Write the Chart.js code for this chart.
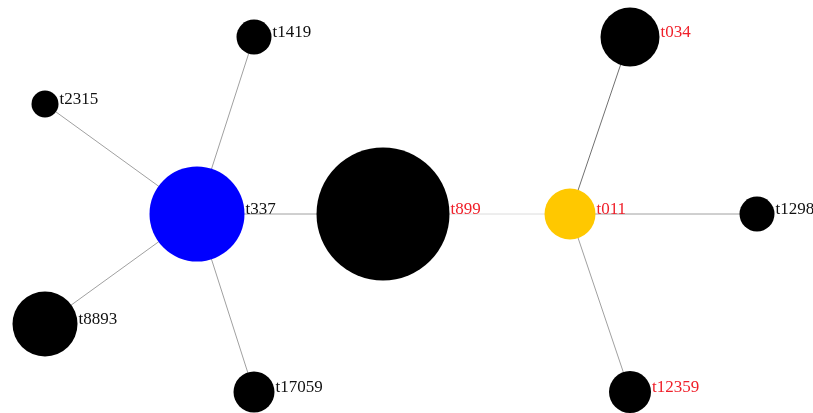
<!DOCTYPE html>
<html>
<head>
<meta charset="utf-8">
<script src="https://cdn.jsdelivr.net/npm/chart.js@4"></script>
<style>
  html, body { margin: 0; padding: 0; background: #fff; }
  #wrap { width: 813px; height: 413px; }
</style>
</head>
<body>
<div id="wrap"><canvas id="net"></canvas></div>
<script>
// spa types, layout position and node size
const nodeNames = ['t1419', 't2315', 't337', 't8893', 't17059', 't899', 't011', 't034', 't1298', 't12359'];
const nodeX     = [254, 45, 197, 45, 254, 383, 570, 630, 757, 630];
const nodeY     = [37, 104, 214, 324, 392, 214, 214, 37, 214, 392];
const nodeSize  = [17.5, 13.5, 47.5, 32.5, 20.5, 66.5, 25.5, 29.5, 17.5, 21];
// links between types
const edgeFrom   = ['t337', 't337', 't337', 't337', 't337', 't899', 't011', 't011', 't011'];
const edgeTo     = ['t1419', 't2315', 't8893', 't17059', 't899', 't011', 't034', 't1298', 't12359'];
const edgeWeight = [2, 2, 2, 2, 2, 1, 3, 2, 2];

const redLabels = ['t899', 't011', 't034', 't12359'];
const nodeColour = { t337: '#0000ff', t011: '#ffc800' };
const edgeGrey = { 1: '#dcdcdc', 2: '#a0a0a0', 3: '#707070' };

const idx = (n) => nodeNames.indexOf(n);

// don't shrink the plot area to fit the bubbles, the layout already fits the page
Chart.BubbleController.prototype.getMaxOverflow = function () { return 0; };

const edgeSets = edgeFrom.map((f, i) => ({
  type: 'line',
  data: [
    { x: nodeX[idx(f)], y: nodeY[idx(f)] },
    { x: nodeX[idx(edgeTo[i])], y: nodeY[idx(edgeTo[i])] }
  ],
  borderColor: edgeGrey[edgeWeight[i]],
  borderWidth: 1,
  pointRadius: 0,
  showLine: true,
  order: 1,
  clip: false
}));

const nodeSet = {
  type: 'bubble',
  data: nodeNames.map((n, i) => ({ x: nodeX[i], y: nodeY[i], r: nodeSize[i] })),
  backgroundColor: nodeNames.map((n) => nodeColour[n] || '#000000'),
  borderWidth: 0,
  hoverRadius: 0,
  order: 0,
  clip: false
};

// node labels to the right of each circle
const labelPlugin = {
  id: 'nodeLabels',
  afterDatasetsDraw(chart) {
    const ctx = chart.ctx;
    const xs = chart.scales.x, ys = chart.scales.y;
    ctx.save();
    ctx.font = '17px "Liberation Serif", "DejaVu Serif", serif';
    ctx.textBaseline = 'middle';
    ctx.textAlign = 'left';
    nodeNames.forEach((n, i) => {
      const px = xs.getPixelForValue(nodeX[i]) + nodeSize[i] + 1;
      const py = ys.getPixelForValue(nodeY[i]) - 4;
      ctx.fillStyle = redLabels.includes(n) ? '#f0202a' : '#111111';
      ctx.fillText(n, px, py);
    });
    ctx.restore();
  }
};

new Chart(document.getElementById('net'), {
  data: { datasets: [nodeSet, ...edgeSets] },
  options: {
    responsive: true,
    maintainAspectRatio: false,
    animation: false,
    layout: { padding: 0 },
    plugins: { legend: { display: false }, tooltip: { enabled: false } },
    events: [],
    scales: {
      x: { type: 'linear', min: 0, max: 813, display: false },
      y: { type: 'linear', min: 0, max: 413, reverse: true, display: false }
    }
  },
  plugins: [labelPlugin]
});
</script>
</body>
</html>
